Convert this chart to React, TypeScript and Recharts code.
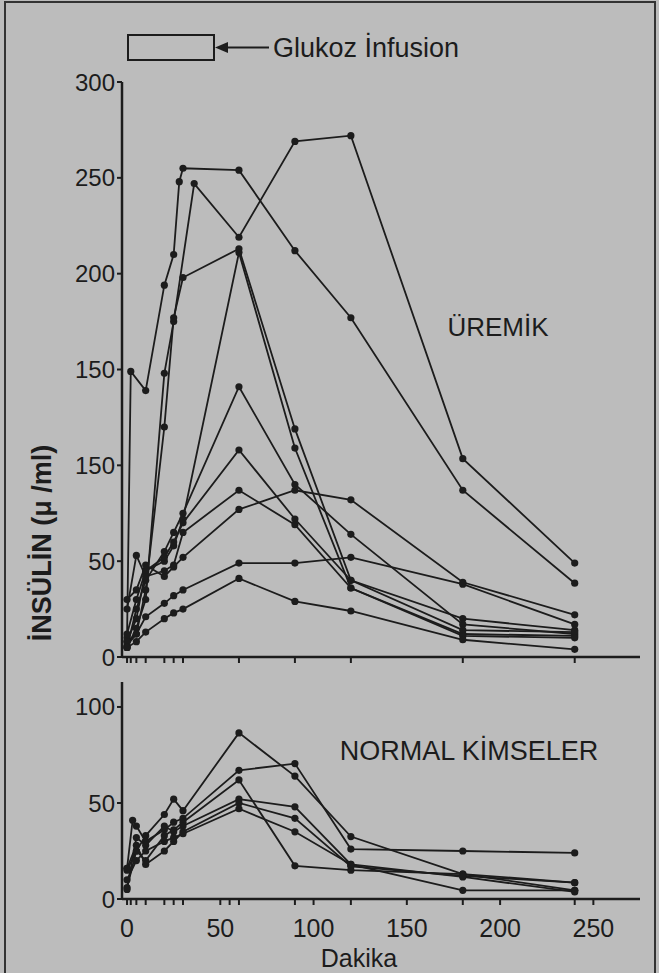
import { LineChart, Line, XAxis, YAxis } from 'recharts';

// sample times (dakika) and axis ticks
const upperXTicks = [0, 2, 5, 10, 20, 25, 30, 60, 90, 120, 180, 240];
const lowerXTicks = [0, 2, 5, 10, 20, 25, 30, 50, 55, 60, 90, 100, 120, 150, 180, 200, 240, 250];
const xLabelTicks = [0, 50, 100, 150, 200, 250];
const upperYTicks = [0, 50, 100, 150, 200, 250, 300];
// the printed axis repeats "150" at the 100 mark
const upperYLabels = ['0', '50', '150', '150', '200', '250', '300'];
const lowerYTicks = [0, 50, 100];

// ÜREMİK: [dakika, insülin]
const uremik1 = [[0, 10], [2, 149], [10, 139], [20, 194], [25, 210], [28, 248], [30, 255], [60, 254], [90, 212], [120, 177], [180, 87], [240, 38.5]];
const uremik2 = [[0, 5], [5, 15], [10, 30], [20, 148], [25, 175], [36, 247], [60, 219], [90, 269], [120, 272], [180, 103.5], [240, 49]];
const uremik3 = [[0, 6], [5, 12], [10, 35], [20, 120], [25, 177], [30, 198], [60, 213], [90, 119], [120, 40], [180, 20], [240, 14]];
const uremik4 = [[0, 8], [5, 20], [10, 45], [20, 50], [25, 58], [30, 72], [60, 211], [90, 109], [120, 36], [180, 12], [240, 11]];
const uremik5 = [[0, 5], [5, 25], [10, 40], [20, 55], [25, 65], [30, 75], [60, 141], [90, 90], [120, 64], [180, 17], [240, 12]];
const uremik6 = [[0, 12], [5, 30], [10, 45], [20, 52], [25, 60], [30, 70], [60, 108], [90, 72], [120, 40], [180, 14], [240, 13]];
const uremik7 = [[0, 25], [5, 53], [10, 42], [20, 45], [25, 48], [30, 65], [60, 87], [90, 69], [120, 36], [180, 11], [240, 10]];
const uremik8 = [[0, 30], [5, 35], [10, 48], [20, 42], [25, 47], [30, 52], [60, 77], [90, 87], [120, 82], [180, 39], [240, 22]];
const uremik9 = [[0, 8], [5, 12], [10, 21], [20, 28], [25, 32], [30, 35], [60, 49], [90, 49], [120, 52], [180, 38], [240, 17]];
const uremik10 = [[0, 5], [5, 8], [10, 13], [20, 20], [25, 23], [30, 25], [60, 41], [90, 29], [120, 24], [180, 9], [240, 4]];

// NORMAL KİMSELER
const normal1 = [[0, 6], [5, 25], [10, 33], [20, 44], [25, 52], [30, 46], [60, 86.5], [90, 64], [120, 32.5], [180, 13], [240, 8.5]];
const normal2 = [[0, 16], [3, 41], [5, 38], [10, 30], [20, 36], [25, 40], [30, 42], [60, 67], [90, 70.5], [120, 26], [180, 25], [240, 24]];
const normal3 = [[0, 15], [5, 25], [10, 20], [20, 33], [25, 36], [30, 40], [60, 62], [90, 17.3], [120, 15], [180, 13], [240, 4.5]];
const normal4 = [[0, 5], [5, 32], [10, 28], [20, 38], [25, 35], [30, 38], [60, 52], [90, 48], [120, 18], [180, 4.5], [240, 4.5]];
const normal5 = [[0, 16], [5, 28], [10, 18], [20, 25], [25, 30], [30, 35], [60, 50], [90, 42], [120, 17], [180, 12], [240, 8.5]];
const normal6 = [[0, 10], [5, 20], [10, 25], [20, 30], [25, 32], [30, 34], [60, 47], [90, 35], [120, 18], [180, 11.5], [240, 3.7]];

const uremikSeries = [uremik1, uremik2, uremik3, uremik4, uremik5, uremik6, uremik7, uremik8, uremik9, uremik10];
const normalSeries = [normal1, normal2, normal3, normal4, normal5, normal6];

const INK = '#1c1c1c';
const BG = '#bcbcbc';
const FONT = '"Liberation Sans", Arial, sans-serif';

const toRows = (pairs: number[][]) => pairs.map(([t, v]) => ({ t, v }));

const NoTick = () => <g />;

const BottomTick = (props: any) => {
  const { x, y, payload } = props;
  if (!xLabelTicks.includes(payload.value)) return <g />;
  return (
    <text x={x} y={y + 30} textAnchor="middle" fontSize={25} fontFamily={FONT} fill={INK}>
      {payload.value}
    </text>
  );
};

const renderLines = (series: number[][][], prefix: string) =>
  series.map((s, i) => (
    <Line
      key={prefix + i}
      data={toRows(s)}
      dataKey="v"
      type="linear"
      stroke={INK}
      strokeWidth={1.8}
      dot={{ r: 3.6, fill: INK, stroke: INK, strokeWidth: 0 }}
      isAnimationActive={false}
    />
  ));

export default function App() {
  return (
    <div style={{ position: 'fixed', left: 0, top: 0, width: 659, height: 973, background: BG, overflow: 'hidden' }}>
      {/* page frame */}
      <div style={{ position: 'absolute', left: 4, top: 1, width: 648, height: 990, borderLeft: '2px solid #333', borderRight: '2px solid #333', borderTop: '2px solid #333' }} />

      {/* legend */}
      <svg width={659} height={75} style={{ position: 'absolute', left: 0, top: 0 }}>
        <rect x={128} y={35} width={86} height={25} fill="none" stroke={INK} strokeWidth={2} />
        <line x1={226} y1={47.5} x2={269} y2={47.5} stroke={INK} strokeWidth={2} />
        <polygon points="215,47.5 228,42 228,53" fill={INK} />
        <text x={273} y={57} fontSize={27} fontFamily={FONT} fill={INK}>Glukoz İnfusion</text>
      </svg>

      {/* upper panel: ÜREMİK */}
      <div style={{ position: 'absolute', left: 0, top: 0 }}>
        <LineChart width={659} height={670} margin={{ top: 82, right: 19, bottom: 0, left: 0 }}>
          <XAxis
            type="number"
            dataKey="t"
            domain={[-2.7, 275]}
            allowDataOverflow
            ticks={upperXTicks}
            interval={0}
            tick={NoTick}
            tickSize={6}
            height={13}
            axisLine={{ stroke: INK, strokeWidth: 2.5 }}
            tickLine={{ stroke: INK, strokeWidth: 2 }}
            allowDuplicatedCategory={false}
          />
          <YAxis
            type="number"
            domain={[0, 300]}
            ticks={upperYTicks}
            interval={0}
            width={122}
            tickSize={5}
            tickFormatter={(v: number) => upperYLabels[upperYTicks.indexOf(v)]}
            tick={{ fontSize: 24, fontFamily: FONT, fill: INK }}
            axisLine={{ stroke: INK, strokeWidth: 2.5 }}
            tickLine={{ stroke: INK, strokeWidth: 2 }}
          />
          {renderLines(uremikSeries, 'u')}
        </LineChart>
      </div>

      {/* lower panel: NORMAL KİMSELER */}
      <div style={{ position: 'absolute', left: 0, top: 660 }}>
        <LineChart width={659} height={313} margin={{ top: 22, right: 19, bottom: 0, left: 0 }}>
          <XAxis
            type="number"
            dataKey="t"
            domain={[-2.7, 275]}
            allowDataOverflow
            ticks={lowerXTicks}
            interval={0}
            tick={BottomTick}
            tickSize={6}
            height={74}
            axisLine={{ stroke: INK, strokeWidth: 2.5 }}
            tickLine={{ stroke: INK, strokeWidth: 2 }}
            allowDuplicatedCategory={false}
          />
          <YAxis
            type="number"
            domain={[0, 113]}
            ticks={lowerYTicks}
            interval={0}
            width={122}
            tickSize={5}
            tick={{ fontSize: 24, fontFamily: FONT, fill: INK }}
            axisLine={{ stroke: INK, strokeWidth: 2.5 }}
            tickLine={{ stroke: INK, strokeWidth: 2 }}
          />
          {renderLines(normalSeries, 'n')}
        </LineChart>
      </div>

      {/* panel captions, axis titles */}
      <svg width={659} height={973} style={{ position: 'absolute', left: 0, top: 0, pointerEvents: 'none' }}>
        <text x={498} y={336} textAnchor="middle" fontSize={26} fontFamily={FONT} fill={INK}>ÜREMİK</text>
        <text x={469} y={760} textAnchor="middle" fontSize={27} fontFamily={FONT} fill={INK}>NORMAL KİMSELER</text>
        <text x={359} y={967} textAnchor="middle" fontSize={25} fontFamily={FONT} fill={INK}>Dakika</text>
        <text
          transform="translate(51,543) rotate(-90)"
          textAnchor="middle"
          fontSize={27}
          fontWeight="bold"
          fontFamily={FONT}
          fill={INK}
        >
          İNSÜLİN (μ /ml)
        </text>
      </svg>
    </div>
  );
}
